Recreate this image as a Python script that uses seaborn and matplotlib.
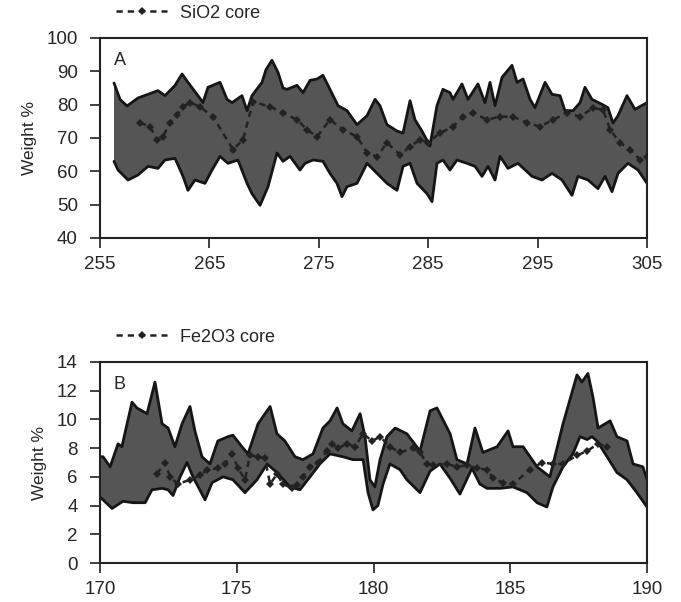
import numpy as np
import pandas as pd
import matplotlib
matplotlib.use("Agg")
import matplotlib.pyplot as plt
import seaborn as sns

# ---------------- Panel A (SiO2) ----------------
sio2_upper_x = [256.28, 256.83, 257.47, 258.47, 259.39, 260.30, 260.94, 261.86, 262.50, 263.04,
                263.96, 264.41, 264.87, 265.97, 266.61, 267.07, 267.98, 268.44, 268.89, 269.81,
                270.17, 270.72, 271.27, 271.73, 272.09, 273.01, 273.56, 274.20, 274.84, 275.38,
                275.84, 276.76, 277.58, 278.49, 279.41, 280.14, 280.59, 281.23, 282.15, 282.70,
                283.34, 283.79, 284.43, 285.16, 285.80, 286.35, 286.99, 287.27, 288.09, 288.64,
                289.55, 290.19, 290.65, 291.11, 291.75, 292.66, 293.12, 293.67, 294.31, 294.76,
                295.68, 296.32, 297.05, 297.50, 298.24, 298.88, 299.33, 299.97, 300.89, 301.43,
                301.89, 302.35, 303.17, 303.90, 305.0]
sio2_upper = [86.5, 81.6, 79.6, 82.0, 83.1, 84.2, 82.7, 85.8, 89.2, 86.7,
              82.7, 80.6, 85.2, 86.7, 81.6, 80.6, 82.7, 78.2, 82.7, 86.7,
              90.5, 93.3, 89.7, 85.0, 84.6, 85.8, 83.6, 87.3, 87.7, 88.8,
              85.8, 79.7, 78.2, 74.0, 76.7, 81.6, 79.7, 74.0, 72.1, 71.5,
              81.2, 75.5, 72.1, 67.6, 79.7, 84.6, 83.6, 81.6, 86.2, 81.6,
              86.2, 80.6, 86.7, 79.7, 88.2, 91.8, 86.7, 87.7, 81.6, 79.1,
              86.7, 83.1, 82.7, 78.2, 78.2, 80.6, 85.2, 81.6, 80.1, 79.1,
              74.5, 76.7, 82.7, 78.6, 80.6]
sio2_lower_x = [256.28, 256.65, 257.56, 258.47, 259.39, 260.30, 260.94, 261.86, 262.59, 263.04,
                263.68, 264.60, 265.24, 265.97, 266.70, 267.61, 268.44, 268.89, 269.63, 270.36,
                271.18, 271.73, 272.37, 273.28, 273.74, 274.47, 275.38, 276.02, 276.66, 277.12,
                277.58, 278.49, 279.41, 280.32, 281.23, 282.15, 282.70, 283.34, 283.98, 284.89,
                285.35, 285.80, 286.35, 286.99, 287.63, 288.55, 289.28, 289.92, 290.47, 291.11,
                291.56, 292.29, 293.21, 294.49, 295.40, 296.32, 297.23, 298.14, 298.69, 299.61,
                300.52, 301.16, 301.80, 302.35, 303.26, 304.18, 305.0]
sio2_lower = [63.0, 60.4, 57.4, 58.9, 61.5, 60.9, 63.4, 63.9, 58.5, 54.3,
              57.4, 56.4, 60.4, 64.5, 62.4, 63.4, 56.4, 53.3, 49.8, 55.4,
              65.5, 63.0, 64.5, 60.4, 62.4, 63.4, 63.0, 59.4, 56.4, 52.4,
              55.4, 56.4, 62.4, 59.4, 56.4, 54.3, 61.5, 62.4, 56.4, 53.3,
              50.9, 62.4, 63.4, 60.4, 63.4, 62.4, 61.5, 58.5, 61.5, 57.4,
              64.5, 60.9, 62.4, 58.5, 57.4, 59.4, 57.4, 52.8, 58.5, 57.4,
              54.8, 58.5, 53.9, 59.4, 62.4, 60.4, 56.4]
sio2_core_x = [258.66, 259.57, 260.21, 260.76, 261.40, 262.04, 262.59, 263.23, 264.14, 265.33,
               267.16, 268.07, 268.99, 270.54, 271.73, 273.01, 273.92, 274.84, 276.02, 277.21,
               278.49, 279.41, 280.32, 281.23, 282.42, 283.34, 284.25, 284.98, 286.08, 287.27,
               288.18, 289.09, 290.37, 291.56, 292.75, 294.03, 295.22, 296.41, 297.69, 298.88,
               300.06, 300.98, 301.62, 302.53, 303.45, 304.36, 305.0]
sio2_core = [74.6, 73.4, 69.5, 70.4, 74.6, 77.0, 79.4, 80.6, 79.4, 76.4,
             66.5, 69.5, 80.9, 79.4, 77.5, 75.5, 72.5, 70.4, 75.5, 72.5,
             70.4, 65.6, 64.4, 68.6, 65.0, 67.4, 69.5, 68.6, 71.5, 73.4,
             76.4, 77.5, 75.5, 76.4, 76.4, 74.6, 73.4, 75.5, 77.5, 76.4,
             79.0, 78.5, 72.5, 68.6, 66.5, 63.5, 64.4]

# ---------------- Panel B (Fe2O3) ----------------
fe_upper_x = [170.0, 170.11, 170.37, 170.66, 170.80, 171.17, 171.35, 171.72, 172.01, 172.27,
              172.49, 172.74, 173.00, 173.29, 173.47, 173.73, 174.02, 174.31, 174.68, 174.86,
              175.19, 175.41, 175.78, 176.22, 176.47, 176.76, 177.13, 177.42, 177.79, 178.15,
              178.41, 178.67, 178.88, 179.21, 179.51, 179.69, 179.87, 180.05, 180.24, 180.49,
              180.79, 181.22, 181.70, 182.07, 182.32, 182.80, 183.05, 183.42, 183.71, 184.00,
              184.52, 184.92, 185.10, 185.47, 185.98, 186.45, 186.93, 187.44, 187.62, 187.84,
              188.03, 188.21, 188.65, 188.90, 189.27, 189.49, 189.85, 190.0]
fe_upper = [7.4, 7.4, 6.7, 8.3, 8.1, 11.2, 10.8, 10.4, 12.6, 9.7,
            9.4, 8.1, 9.7, 10.9, 9.2, 7.4, 6.9, 8.5, 8.8, 8.9,
            8.1, 7.6, 9.7, 10.9, 9.0, 8.5, 7.4, 7.2, 7.6, 9.4,
            9.9, 10.8, 9.7, 9.2, 10.4, 8.8, 5.8, 5.3, 7.2, 8.8,
            9.4, 9.0, 7.8, 10.6, 10.8, 9.0, 7.2, 6.9, 9.4, 7.7,
            8.1, 9.2, 8.1, 8.1, 6.7, 6.0, 9.7, 13.1, 12.6, 13.2,
            11.5, 9.4, 9.9, 8.8, 8.5, 6.9, 6.7, 5.8]
fe_lower_x = [170.0, 170.44, 170.84, 171.21, 171.65, 171.90, 172.27, 172.49, 172.67, 172.93,
              173.18, 173.40, 173.84, 174.10, 174.50, 174.86, 175.30, 175.74, 176.11, 176.47,
              176.95, 177.31, 177.68, 178.04, 178.41, 178.88, 179.25, 179.62, 179.80, 179.98,
              180.16, 180.35, 180.60, 180.97, 181.22, 181.70, 182.07, 182.43, 182.80, 183.16,
              183.60, 183.89, 184.15, 184.63, 185.10, 185.61, 185.98, 186.34, 186.56, 186.93,
              187.29, 187.55, 187.81, 187.99, 188.17, 188.54, 188.90, 189.27, 189.63, 190.0]
fe_lower = [4.6, 3.8, 4.3, 4.2, 4.2, 5.1, 5.2, 5.1, 4.7, 6.0,
            7.0, 6.0, 4.4, 5.6, 6.0, 5.8, 4.9, 5.8, 6.9, 6.3,
            5.3, 5.1, 6.0, 6.9, 7.6, 7.4, 7.2, 7.2, 4.9, 3.7,
            4.0, 5.5, 6.9, 6.5, 5.8, 4.9, 6.4, 6.9, 5.9, 4.8,
            6.6, 5.5, 5.2, 5.2, 5.3, 4.9, 4.2, 3.9, 5.3, 6.7,
            7.6, 8.8, 8.6, 8.8, 8.5, 7.4, 6.3, 5.8, 4.9, 3.9]
fe_core_x = [172.08, 172.38, 172.56, 172.85, 173.29, 173.66, 173.91, 174.31, 174.57, 174.83,
             175.05, 175.30, 175.48, 175.78, 176.03, 176.22, 176.47, 176.69, 177.02, 177.20,
             177.42, 177.68, 177.97, 178.30, 178.48, 178.70, 179.03, 179.32, 179.62, 179.95,
             180.24, 180.60, 180.97, 181.44, 181.70, 181.96, 182.18, 182.69, 183.05, 183.42,
             183.78, 184.15, 184.37, 184.73, 185.10, 185.72, 186.16, 186.56, 186.93, 187.44,
             187.81, 188.21, 188.54]
fe_core = [6.2, 7.0, 6.0, 5.5, 5.8, 6.1, 6.5, 6.6, 6.9, 7.6,
           6.6, 5.8, 7.5, 7.4, 7.3, 5.5, 6.2, 5.5, 5.2, 5.4,
           6.0, 6.7, 7.0, 7.8, 8.3, 8.0, 8.3, 8.1, 9.0, 8.5,
           8.8, 8.1, 7.7, 8.0, 7.7, 6.9, 6.8, 6.9, 6.7, 6.8,
           6.6, 6.5, 5.9, 5.6, 5.5, 6.5, 7.0, 6.9, 6.9, 7.5,
           7.8, 8.3, 8.1]

panels = [
    dict(ux=sio2_upper_x, u=sio2_upper, lx=sio2_lower_x, l=sio2_lower,
         cx=sio2_core_x, c=sio2_core, label="SiO2 core", tag="A",
         xlim=(255, 305), xticks=[255, 265, 275, 285, 295, 305],
         ylim=(40, 100), yticks=[40, 50, 60, 70, 80, 90, 100]),
    dict(ux=fe_upper_x, u=fe_upper, lx=fe_lower_x, l=fe_lower,
         cx=fe_core_x, c=fe_core, label="Fe2O3 core", tag="B",
         xlim=(170, 190), xticks=[170, 175, 180, 185, 190],
         ylim=(0, 14), yticks=[0, 2, 4, 6, 8, 10, 12, 14]),
]

sns.set_style("ticks")
plt.rcParams['font.family'] = ['Liberation Sans', 'DejaVu Sans']

fig = plt.figure(figsize=(6.81, 6.02), dpi=100)
W, H = 681, 602
boxes = [(100, 38, 647, 238), (100, 362, 647, 563)]

for p, (x0, y0, x1, y1) in zip(panels, boxes):
    ax = fig.add_axes([x0 / W, 1 - y1 / H, (x1 - x0) / W, (y1 - y0) / H])
    poly_x = np.concatenate([np.array(p["ux"]), np.array(p["lx"])[::-1]])
    poly_y = np.concatenate([np.array(p["u"]), np.array(p["l"])[::-1]])
    ax.fill(poly_x, poly_y, color="#555555", lw=0, zorder=1)
    sns.lineplot(x=p["ux"], y=p["u"], sort=False, color="#151515", lw=2.0, ax=ax, zorder=2)
    sns.lineplot(x=p["lx"], y=p["l"], sort=False, color="#151515", lw=2.0, ax=ax, zorder=2)
    sns.lineplot(x=p["cx"], y=p["c"], sort=False, color="#222222", lw=1.8,
                 linestyle=(0, (2.5, 2.0)), marker="D", markersize=4,
                 markeredgewidth=0, ax=ax, zorder=3, label=p["label"])
    ax.set_xlim(*p["xlim"])
    ax.set_ylim(*p["ylim"])
    ax.set_xticks(p["xticks"])
    ax.set_yticks(p["yticks"])
    ax.tick_params(axis="y", labelsize=13.5, length=7, width=1.2, color="#222222",
                   direction="out", pad=9)
    ax.tick_params(axis="x", labelsize=13.5, length=7, width=1.2, color="#222222",
                   direction="out", pad=6)
    for s in ax.spines.values():
        s.set_linewidth(1.5)
        s.set_color("#222222")
    ax.set_ylabel("Weight %", fontsize=12.5, labelpad=7)
    ax.set_xlabel("")
    ax.text(0.025, 0.93, p["tag"], transform=ax.transAxes, fontsize=13,
            va="top", ha="left")
    leg = ax.legend(loc="lower left", bbox_to_anchor=(0.0, 1.0), frameon=False,
                    fontsize=13, handlelength=2.8, handletextpad=0.75, borderaxespad=0.5)

fig.savefig("out.png", dpi=100, facecolor="white")
